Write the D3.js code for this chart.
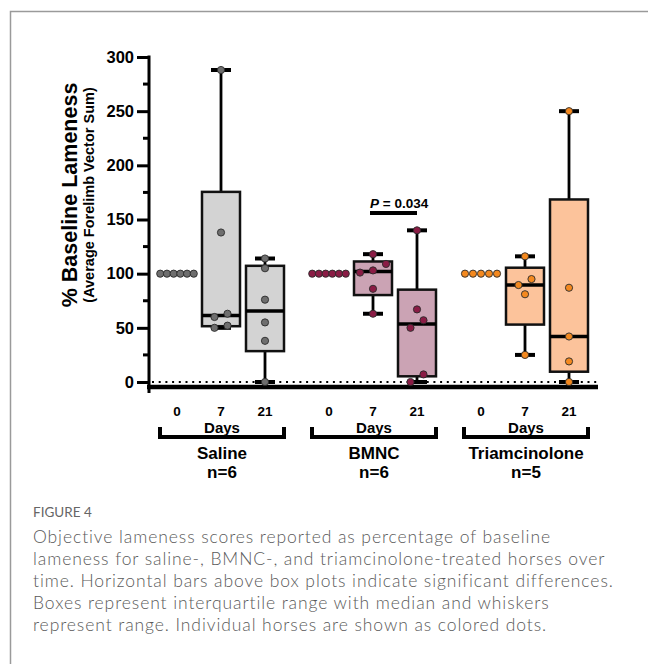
<!DOCTYPE html>
<html>
<head>
<meta charset="utf-8">
<script src="https://cdn.jsdelivr.net/npm/d3@7"></script>
<style>
  body { margin: 0; background: #fff; }
  svg { display: block; }
</style>
</head>
<body>
<svg width="648" height="664"></svg>
<script>
// values
var groups = ["Saline", "BMNC", "Triamcinolone"];
var groupN = ["n=6", "n=6", "n=5"];
var days = ["0", "7", "21"];

var salineValues = [
  [100, 100, 100, 100, 100, 100],
  [288, 138, 63, 60, 52, 50],
  [114, 105, 76, 55, 38, 0]
];
var bmncValues = [
  [100, 100, 100, 100, 100, 100],
  [118, 109, 103, 101, 86, 63],
  [140, 67, 57, 50, 7, 0]
];
var triamValues = [
  [100, 100, 100, 100, 100],
  [116, 95, 89.5, 81, 25],
  [250, 87, 42, 19, 0]
];
var yTicks = [0, 50, 100, 150, 200, 250, 300];
var yMinor = [25, 75, 125, 175, 225, 275];

var sigGroup = "BMNC", sigFrom = "7", sigTo = "21", sigLabel = "0.034", sigLevel = 156;

var captionTitle = "FIGURE 4";
var captionLines = [
  "Objective lameness scores reported as percentage of baseline",
  "lameness for saline-, BMNC-, and triamcinolone-treated horses over",
  "time. Horizontal bars above box plots indicate significant differences.",
  "Boxes represent interquartile range with median and whiskers",
  "represent range. Individual horses are shown as colored dots."
];

var fills = ["#d3d3d3", "#cba3b4", "#fcc39b"];
var dotFills = ["#6e6e6e", "#8a1c45", "#f4891f"];
var allValues = [salineValues, bmncValues, triamValues];

var svg = d3.select("svg");
var font = "'Liberation Sans', Arial, sans-serif";

// frame
svg.append("rect")
  .attr("x", 10.5).attr("y", 11.5)
  .attr("width", 700).attr("height", 700)
  .attr("fill", "none").attr("stroke", "#9a9a9a").attr("stroke-width", 1.5);

var y = d3.scaleLinear().domain([0, 300]).range([382, 57]);
var xg = d3.scalePoint().domain(groups).range([221, 525]);
var xd = d3.scalePoint().domain(days).range([-44, 44]);

var g = svg.append("g");

// dotted zero line
g.append("line")
  .attr("x1", 152).attr("x2", 598)
  .attr("y1", y(0)).attr("y2", y(0))
  .attr("stroke", "#000").attr("stroke-width", 2)
  .attr("stroke-dasharray", "2,4.7");

// y axis
var yAxis = d3.axisLeft(y).tickValues(yTicks).tickSize(12).tickPadding(3);
var ax = g.append("g").attr("transform", "translate(149,0)").call(yAxis);
ax.select(".domain").remove();
ax.selectAll(".tick line").attr("stroke", "#000").attr("stroke-width", 3);
ax.selectAll(".tick text")
  .attr("font-family", font).attr("font-weight", "bold")
  .attr("font-size", 16.5).attr("fill", "#000");
g.append("g").selectAll("line").data(yMinor).enter().append("line")
  .attr("x1", 143).attr("x2", 149)
  .attr("y1", function(d) { return y(d); }).attr("y2", function(d) { return y(d); })
  .attr("stroke", "#000").attr("stroke-width", 3);
g.append("line")
  .attr("x1", 149).attr("x2", 149).attr("y1", 55.5).attr("y2", 393)
  .attr("stroke", "#000").attr("stroke-width", 3);

// x baseline
g.append("line")
  .attr("x1", 147).attr("x2", 598).attr("y1", 387).attr("y2", 387)
  .attr("stroke", "#000").attr("stroke-width", 4.5);

// y title
var yt = g.append("g").attr("transform", "translate(77,195) rotate(-90)");
yt.append("text").attr("text-anchor", "middle")
  .attr("font-family", font).attr("font-weight", "bold").attr("font-size", 21.5)
  .text("% Baseline Lameness");
yt.append("text").attr("text-anchor", "middle").attr("y", 17)
  .attr("font-family", font).attr("font-weight", "bold").attr("font-size", 14.5)
  .text("(Average Forelimb Vector Sum)");

// quartiles the GraphPad way: position p*(n+1)
function quart(sorted, p) {
  var n = sorted.length, pos = p * (n + 1);
  var lo = Math.floor(pos);
  if (lo < 1) return sorted[0];
  if (lo >= n) return sorted[n - 1];
  return sorted[lo - 1] + (pos - lo) * (sorted[lo] - sorted[lo - 1]);
}

var r = 3.6;
function swarm(vals) {
  var s = vals.slice().sort(d3.ascending);
  var clusters = [], cur = [s[0]];
  for (var i = 1; i < s.length; i++) {
    if (y(cur[cur.length - 1]) - y(s[i]) < 2 * r + 0.5) cur.push(s[i]);
    else { clusters.push(cur); cur = [s[i]]; }
  }
  clusters.push(cur);
  var out = [];
  clusters.forEach(function(c) {
    var flat = c[0] === c[c.length - 1];
    var gap = flat ? (c.length > 5 ? 6.7 : 8) : 13;
    c.forEach(function(v, j) { out.push({v: v, dx: (j - (c.length - 1) / 2) * gap}); });
  });
  return out;
}

groups.forEach(function(grp, gi) {
  var gx = xg(grp);
  days.forEach(function(day, di) {
    var vals = allValues[gi][di];
    var cx = gx + xd(day);
    var s = vals.slice().sort(d3.ascending);
    var mn = s[0], mx = s[s.length - 1];
    var q1 = quart(s, 0.25), med = quart(s, 0.5), q3 = quart(s, 0.75);
    var bg = g.append("g");
    if (mx > mn) {
      bg.append("line").attr("x1", cx).attr("x2", cx).attr("y1", y(mx)).attr("y2", y(q3))
        .attr("stroke", "#000").attr("stroke-width", 2.8);
      bg.append("line").attr("x1", cx).attr("x2", cx).attr("y1", y(q1)).attr("y2", y(mn))
        .attr("stroke", "#000").attr("stroke-width", 2.8);
      bg.append("rect").attr("x", cx - 19).attr("width", 38)
        .attr("y", y(q3)).attr("height", y(q1) - y(q3))
        .attr("fill", fills[gi]).attr("stroke", "#111").attr("stroke-width", 2.5);
      bg.append("line").attr("x1", cx - 19).attr("x2", cx + 19).attr("y1", y(med)).attr("y2", y(med))
        .attr("stroke", "#000").attr("stroke-width", 3.5);
      [mn, mx].forEach(function(v) {
        bg.append("line").attr("x1", cx - 10).attr("x2", cx + 10).attr("y1", y(v)).attr("y2", y(v))
          .attr("stroke", "#000").attr("stroke-width", 4);
      });
    }
    bg.selectAll("circle").data(swarm(vals)).enter().append("circle")
      .attr("cx", function(d) { return cx + d.dx; })
      .attr("cy", function(d) { return y(d.v); })
      .attr("r", r)
      .attr("fill", dotFills[gi]).attr("stroke", "#2a2a2a").attr("stroke-width", 0.9);

    // day tick labels
    g.append("text").attr("x", cx).attr("y", 415.5).attr("text-anchor", "middle")
      .attr("font-family", font).attr("font-weight", "bold").attr("font-size", 13.5)
      .text(day);
  });

  var bx = gx + 1;
  g.append("text").attr("x", bx).attr("y", 432.5).attr("text-anchor", "middle")
    .attr("font-family", font).attr("font-weight", "bold").attr("font-size", 15).text("Days");
  g.append("path")
    .attr("d", "M" + (bx - 62) + ",427V437H" + (bx + 62) + "V427")
    .attr("fill", "none").attr("stroke", "#000").attr("stroke-width", 4);
  g.append("text").attr("x", bx).attr("y", 459).attr("text-anchor", "middle")
    .attr("font-family", font).attr("font-weight", "bold").attr("font-size", 17).text(grp);
  g.append("text").attr("x", bx).attr("y", 478).attr("text-anchor", "middle")
    .attr("font-family", font).attr("font-weight", "bold").attr("font-size", 17).text(groupN[gi]);
});

// significance bar
var sx1 = xg(sigGroup) + xd(sigFrom) - 3, sx2 = xg(sigGroup) + xd(sigTo);
g.append("line").attr("x1", sx1).attr("x2", sx2).attr("y1", y(sigLevel)).attr("y2", y(sigLevel))
  .attr("stroke", "#000").attr("stroke-width", 4);
var pt = g.append("text").attr("x", sx1).attr("y", y(sigLevel) - 5)
  .attr("font-family", font).attr("font-weight", "bold").attr("font-size", 13.5);
pt.append("tspan").attr("font-style", "italic").text("P");
pt.append("tspan").text(" = " + sigLabel);

// caption
var cap = svg.append("g").attr("transform", "translate(33,0)");
cap.append("text").attr("y", 517)
  .attr("font-family", "Lato, sans-serif").attr("font-size", 13.5)
  .attr("fill", "#666").text(captionTitle);
var lines = cap.selectAll("text.cl").data(captionLines).enter().append("text")
  .attr("class", "cl")
  .attr("y", function(d, i) { return 543 + i * 22; })
  .attr("font-family", "Lato, sans-serif").attr("font-weight", 300)
  .attr("font-size", 17.5).attr("fill", "#5a5a5a")
  .text(function(d) { return d; });
var widestLine = captionLines[2];
var widest = d3.max(lines.nodes(), function(n) { return n.getComputedTextLength(); });
lines.attr("letter-spacing", Math.max(0, (580 - widest) / widestLine.length));
</script>
</body>
</html>
